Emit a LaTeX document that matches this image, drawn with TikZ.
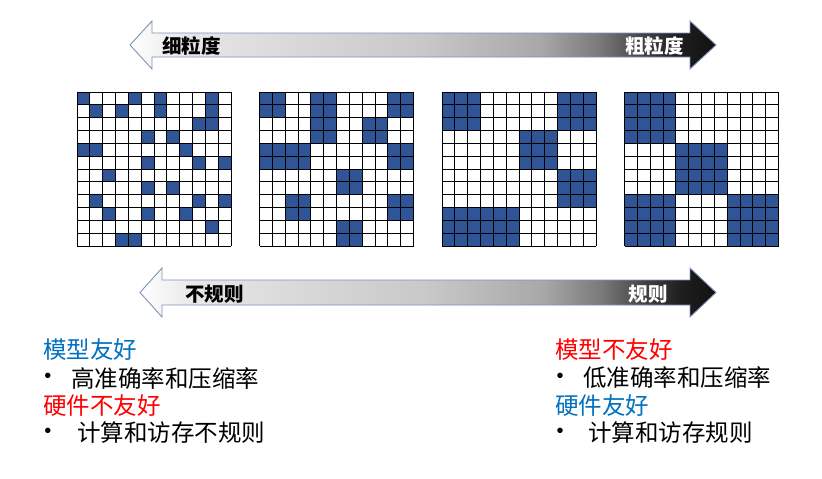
\documentclass[tikz,border=0pt]{standalone}
\usepackage{fontspec}
\newfontfamily\cjk{Noto Sans CJK SC}
\newfontfamily\latin{Liberation Sans}
\definecolor{cellblue}{HTML}{2F5597}
\definecolor{textblue}{HTML}{0070C0}
\definecolor{textred}{HTML}{FF0000}
\definecolor{barline}{HTML}{7F93B8}
\definecolor{fadeA}{HTML}{E6E6E6}
\definecolor{fadeB}{HTML}{C8C8C8}
\definecolor{fadeC}{HTML}{A8A8A8}
\definecolor{fadeD}{HTML}{7A7A7A}
\definecolor{fadeE}{HTML}{404040}
\definecolor{fadeF}{HTML}{1E1E1E}
\definecolor{fadeG}{HTML}{111111}
\pgfdeclarehorizontalshading{barfade}{100bp}{color(0bp)=(white); color(25bp)=(white); color(30bp)=(fadeA); color(50bp)=(fadeB); color(60bp)=(fadeC); color(65bp)=(fadeD); color(69bp)=(fadeE); color(72bp)=(fadeF); color(75bp)=(fadeG); color(100bp)=(fadeG)}
\newcommand{\cs}{12.833}

\begin{document}
\begin{tikzpicture}[x=1pt, y=-1pt,
    bar/.style={shading=barfade, draw=barline, line width=0.9pt},
    bartext/.style={inner sep=0, font=\cjk\bfseries\fontsize{19.5}{19.5}\selectfont},
    cell/.style={fill=cellblue},
    gridline/.style={draw=black, line width=0.8pt},
    line/.style={inner sep=0, anchor=west, font=\cjk\fontsize{23.5}{23.5}\selectfont},
    dot/.style={inner sep=0, font=\latin\fontsize{20}{20}\selectfont}]
    \useasboundingbox[fill=white] (0,0) rectangle (822,479);

    \path[bar] (130,45) -- (152,21) -- (152,33) -- (690,33) -- (690,21) -- (716,45)
        -- (690,69) -- (690,57) -- (152,57) -- (152,69) -- cycle;
    \node(fine)[bartext, anchor=west] at (162,46) {细粒度};
    \node(coarse)[bartext, anchor=east, text=white] at (684,46) {粗粒度};

    \foreach \ox/\blocks in {
        77/{0/0/1/1,4/0/1/1,6/0/1/1,10/0/1/1,1/1/1/1,3/1/1/1,6/1/1/1,10/1/1/1,9/2/1/1,10/2/1/1,
            5/3/1/1,7/3/1/1,0/4/1/1,1/4/1/1,8/4/1/1,5/5/1/1,9/5/1/1,11/5/1/1,2/6/1/1,5/7/1/1,
            7/7/1/1,1/8/1/1,9/8/1/1,11/8/1/1,2/9/1/1,5/9/1/1,8/9/1/1,10/10/1/1,3/11/1/1,4/11/1/1},
        259.5/{0/0/2/2,4/0/2/2,10/0/2/2,4/2/2/2,8/2/2/2,0/4/4/2,10/4/2/2,6/6/2/2,2/8/2/2,
            10/8/2/2,6/10/2/2},
        442/{0/0/3/3,9/0/3/3,6/3/3/3,9/6/3/3,0/9/6/3},
        624.5/{0/0/4/4,4/4/4/4,0/8/4/4,8/8/4/4}} {
        \begin{scope}[shift={(\ox,92)}]
            \foreach \c/\r/\w/\h in \blocks
                \fill[cell] (\c*\cs,\r*\cs) rectangle ++(\w*\cs,\h*\cs);
            \foreach \i in {0,...,12} {
                \draw[gridline] (\i*\cs,0) -- (\i*\cs,12*\cs);
                \draw[gridline] (0,\i*\cs) -- (12*\cs,\i*\cs);
            }
        \end{scope}
    }

    \path[bar] (140,292.5) -- (162,268) -- (162,280) -- (690,280) -- (690,268) -- (716,292.5)
        -- (690,317) -- (690,305) -- (162,305) -- (162,317) -- cycle;
    \node(irregular)[bartext, anchor=west] at (185,294) {不规则};
    \node(regular)[bartext, anchor=east, text=white] at (668,294) {规则};

    \node(mgood)[line, text=textblue] at (43,350) {模型友好};
    \node(dot1)[dot] at (48,378) {•};
    \node(acchigh)[line] at (71,378) {高准确率和压缩率};
    \node(hbad)[line, text=textred] at (43,406) {硬件不友好};
    \node(dot2)[dot] at (48,433) {•};
    \node(irr)[line] at (77,433) {计算和访存不规则};

    \node(mbad)[line, text=textred] at (555,350) {模型不友好};
    \node(dot3)[dot] at (560,378) {•};
    \node(acclow)[line] at (583,378) {低准确率和压缩率};
    \node(hgood)[line, text=textblue] at (555,406) {硬件友好};
    \node(dot4)[dot] at (560,433) {•};
    \node(reg)[line] at (588,433) {计算和访存规则};
\end{tikzpicture}
\end{document}
